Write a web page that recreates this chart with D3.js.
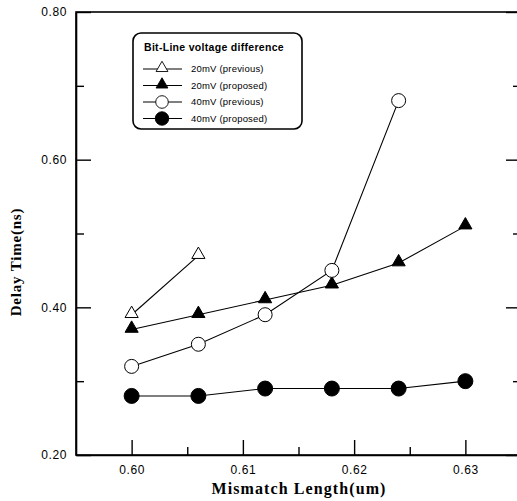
<!DOCTYPE html>
<html>
<head>
<meta charset="utf-8">
<script src="https://cdn.jsdelivr.net/npm/d3@7"></script>
<style>
  body { margin: 0; background: #fff; }
  svg { display: block; }
  .tick text { font-family: Arial, "Liberation Sans", sans-serif; }
</style>
</head>
<body>
<div id="chart"></div>
<script>
// Data
var mismatch = [0.600, 0.606, 0.612, 0.618, 0.624, 0.630];
var prev20 = [0.39, 0.47];
var prop20 = [0.37, 0.39, 0.41, 0.43, 0.46, 0.51];
var prev40 = [0.32, 0.35, 0.39, 0.45, 0.68];
var prop40 = [0.28, 0.28, 0.29, 0.29, 0.29, 0.30];
var xTicks = [0.60, 0.61, 0.62, 0.63];
var yTicks = [0.20, 0.40, 0.60, 0.80];
var seriesNames = ["20mV (previous)", "20mV (proposed)", "40mV (previous)", "40mV (proposed)"];

var svgWidth = 517;
var svgHeight = 501;
var margin = { top: 12, right: -4, bottom: 46, left: 76 };
var width = svgWidth - margin.left - margin.right;
var height = svgHeight - margin.top - margin.bottom;

var svg = d3.select("#chart")
  .append("svg")
  .attr("width", svgWidth)
  .attr("height", svgHeight);

var chartGroup = svg.append("g")
  .attr("transform", `translate(${margin.left}, ${margin.top})`);

var x = d3.scaleLinear().domain([0.595, 0.635]).range([0, width]);
var y = d3.scaleLinear().domain([0.20, 0.80]).range([height, 0]);

var series = [
  { name: seriesNames[0], values: prev20, shape: "tri", filled: false },
  { name: seriesNames[1], values: prop20, shape: "tri", filled: true },
  { name: seriesNames[2], values: prev40, shape: "circ", filled: false },
  { name: seriesNames[3], values: prop40, shape: "circ", filled: true }
];

// frame
chartGroup.append("rect")
  .attr("width", width).attr("height", height)
  .attr("fill", "none").attr("stroke", "#000").attr("stroke-width", 1.6);

// minor tick positions
var xMinor = [0.605, 0.615, 0.625];
var yMinor = [0.30, 0.50, 0.70];

// bottom axis, ticks inward
var bottomAxis = d3.axisBottom(x).tickValues(xTicks).tickFormat(d3.format(".2f"))
  .tickSizeInner(-15).tickSizeOuter(0).tickPadding(10);
var gx = chartGroup.append("g").attr("transform", `translate(0, ${height})`).call(bottomAxis);
gx.selectAll(".tick line").attr("stroke-width", 1.4);
gx.selectAll(".domain").attr("stroke-width", 1.6);
gx.selectAll(".tick text").attr("font-size", 12).attr("letter-spacing", "0.6px");
chartGroup.append("g").attr("transform", `translate(0, ${height})`)
  .call(d3.axisBottom(x).tickValues(xMinor).tickFormat("").tickSizeInner(-8).tickSizeOuter(0))
  .call(g => g.select(".domain").remove())
  .selectAll(".tick line").attr("stroke-width", 1.4);

// left axis, ticks inward
var leftAxis = d3.axisLeft(y).tickValues(yTicks).tickFormat(d3.format(".2f"))
  .tickSizeInner(-15).tickSizeOuter(0).tickPadding(9);
var gy = chartGroup.append("g").call(leftAxis);
gy.selectAll(".tick line").attr("stroke-width", 1.4);
gy.selectAll(".domain").attr("stroke-width", 1.6);
gy.selectAll(".tick text").attr("font-size", 12).attr("letter-spacing", "0.6px");
chartGroup.append("g")
  .call(d3.axisLeft(y).tickValues(yMinor).tickFormat("").tickSizeInner(-8).tickSizeOuter(0))
  .call(g => g.select(".domain").remove())
  .selectAll(".tick line").attr("stroke-width", 1.4);

// right axis ticks (axis line sits just off-screen)
chartGroup.append("g").attr("transform", `translate(${width}, 0)`)
  .call(d3.axisRight(y).tickValues(yTicks).tickFormat("").tickSizeInner(-15).tickSizeOuter(0))
  .selectAll(".tick line").attr("stroke-width", 1.4);
chartGroup.append("g").attr("transform", `translate(${width}, 0)`)
  .call(d3.axisRight(y).tickValues(yMinor).tickFormat("").tickSizeInner(-8).tickSizeOuter(0))
  .call(g => g.select(".domain").remove())
  .selectAll(".tick line").attr("stroke-width", 1.4);

// axis titles
svg.append("text")
  .attr("transform", "translate(299, 494)")
  .attr("text-anchor", "middle")
  .attr("font-family", "'Liberation Serif', 'Times New Roman', serif")
  .attr("font-weight", "bold")
  .attr("font-size", 16)
  .attr("letter-spacing", "1.1px")
  .text("Mismatch Length(um)");

svg.append("text")
  .attr("transform", "translate(21, 262) rotate(-90)")
  .attr("text-anchor", "middle")
  .attr("font-family", "'Liberation Serif', 'Times New Roman', serif")
  .attr("font-weight", "bold")
  .attr("font-size", 15)
  .attr("letter-spacing", "0.8px")
  .text("Delay Time(ns)");

var triSym = d3.symbol().type(d3.symbolTriangle).size(75);

function drawMarker(g, s) {
  if (s.shape === "tri") {
    g.append("path").attr("d", triSym)
      .attr("transform", "translate(0,-1)")
      .attr("fill", s.filled ? "#000" : "#fff")
      .attr("stroke", "#000").attr("stroke-width", 1);
  } else {
    g.append("circle").attr("r", s.filled ? 7.5 : 7)
      .attr("fill", s.filled ? "#000" : "#fff")
      .attr("stroke", "#000").attr("stroke-width", 1);
  }
}

var line = d3.line()
  .x((d, i) => x(mismatch[i]))
  .y(d => y(d));

series.forEach(function(s) {
  chartGroup.append("path")
    .datum(s.values)
    .attr("d", line)
    .attr("fill", "none")
    .attr("stroke", "#000")
    .attr("stroke-width", 1.1);
});

series.forEach(function(s) {
  chartGroup.append("g")
    .selectAll("g")
    .data(s.values)
    .enter()
    .append("g")
    .attr("transform", (d, i) => `translate(${x(mismatch[i])}, ${y(d)})`)
    .each(function() { drawMarker(d3.select(this), s); });
});

// legend
var legend = svg.append("g").attr("transform", "translate(133, 33)");
legend.append("rect")
  .attr("width", 169).attr("height", 96)
  .attr("rx", 8).attr("ry", 8)
  .attr("fill", "#fff").attr("stroke", "#000").attr("stroke-width", 1.6);
legend.append("text")
  .attr("x", 11).attr("y", 18)
  .attr("font-family", "Arial, 'Liberation Sans', sans-serif")
  .attr("font-weight", "bold")
  .attr("font-size", 10.5)
  .attr("letter-spacing", "0.3px")
  .text("Bit-Line voltage difference");

var rows = legend.selectAll(".row")
  .data(series)
  .enter()
  .append("g")
  .attr("class", "row")
  .attr("transform", (d, i) => `translate(0, ${36 + i * 16.5})`);
rows.append("line")
  .attr("x1", 10).attr("x2", 49)
  .attr("stroke", "#000").attr("stroke-width", 1.1);
rows.append("g")
  .attr("transform", "translate(29, 0) scale(0.9)")
  .each(function(d) { drawMarker(d3.select(this), d); });
rows.append("text")
  .attr("x", 58).attr("dy", "0.35em")
  .attr("font-family", "Arial, 'Liberation Sans', sans-serif")
  .attr("font-size", 9.5)
  .attr("letter-spacing", "0.2px")
  .text(d => d.name);
</script>
</body>
</html>
